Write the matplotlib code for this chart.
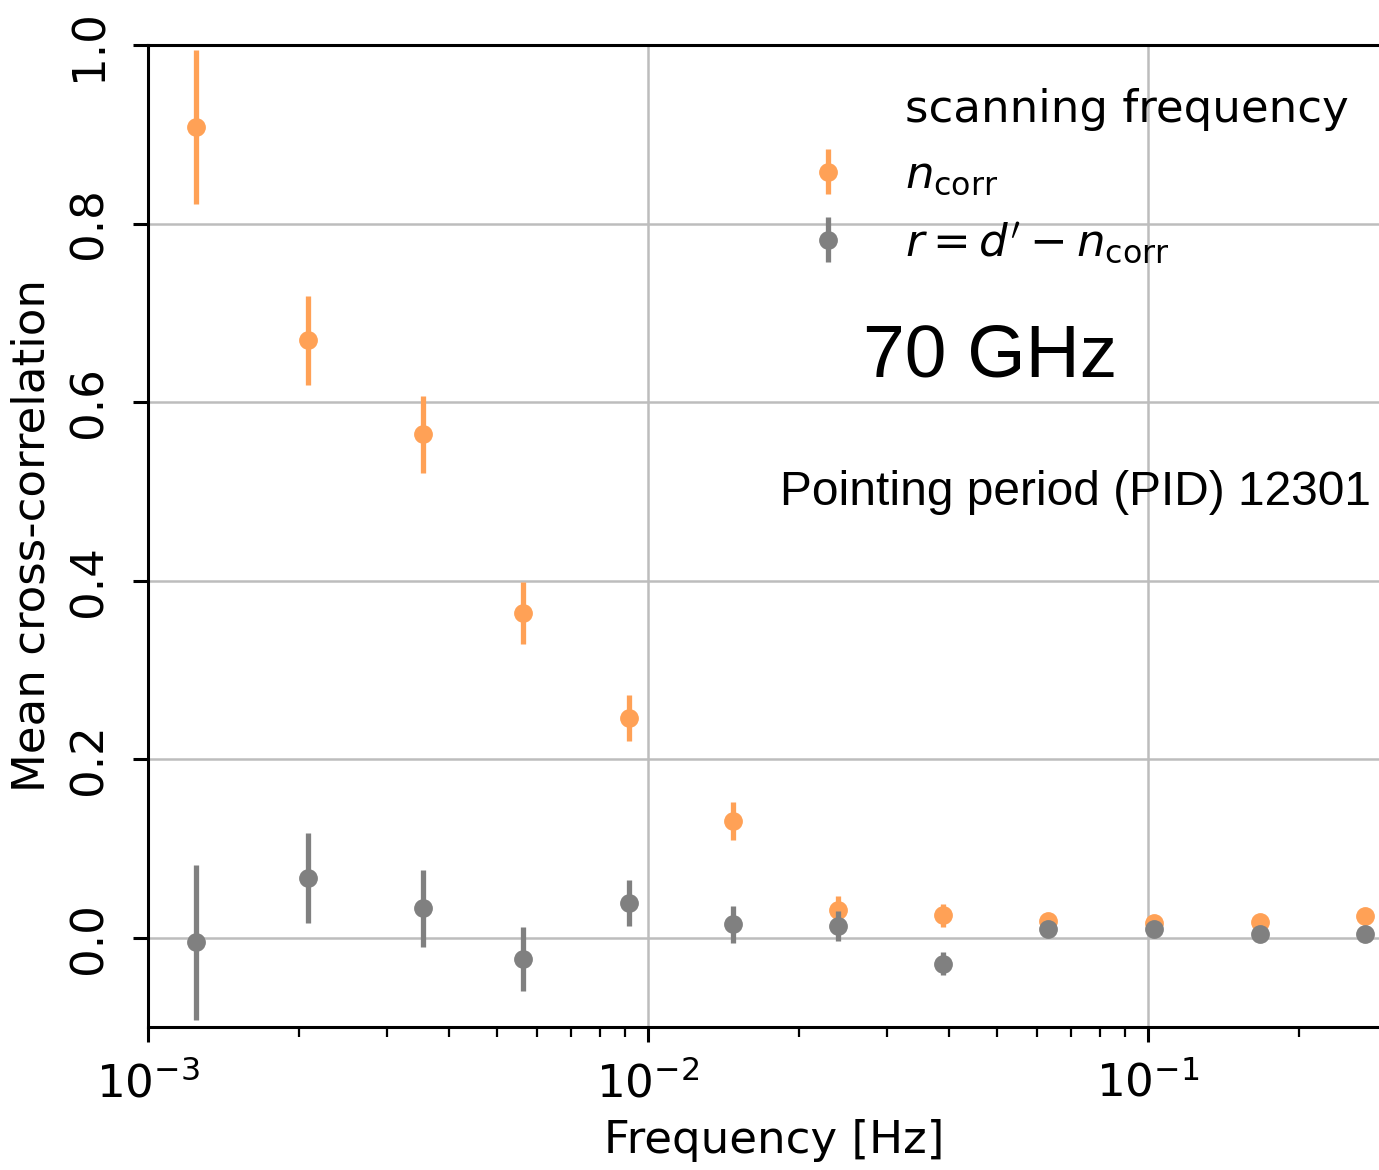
import matplotlib
matplotlib.use("Agg")
import matplotlib.pyplot as plt
from matplotlib.lines import Line2D

# frequency bins [Hz]
freq = [1.25e-3, 2.09e-3, 3.55e-3, 5.62e-3, 9.16e-3, 1.48e-2,
        2.40e-2, 3.89e-2, 6.31e-2, 0.1028, 0.1675, 0.2716]

# n_corr cross-correlation
ncorr = [0.908, 0.669, 0.564, 0.364, 0.246, 0.131,
         0.031, 0.025, 0.019, 0.017, 0.018, 0.024]
ncorr_err = [0.086, 0.050, 0.043, 0.035, 0.026, 0.021,
             0.016, 0.013, 0.008, 0.006, 0.005, 0.004]

# residual r = d' - n_corr
resid = [-0.005, 0.067, 0.033, -0.024, 0.039, 0.015,
         0.013, -0.029, 0.010, 0.010, 0.004, 0.004]
resid_err = [0.087, 0.050, 0.043, 0.036, 0.026, 0.021,
             0.017, 0.013, 0.008, 0.006, 0.005, 0.004]

ORANGE = "#ffa156"
GRAY = "#808080"
FS = 32.5

W, H = 1379, 1170
fig = plt.figure(figsize=(W / 100, H / 100), dpi=100)
ax = fig.add_axes([148 / W, 1 - 1027 / H, (1400 - 148) / W, (1027 - 45) / H])

ax.errorbar(freq, ncorr, yerr=ncorr_err, fmt="o", color=ORANGE,
            markersize=12.5, elinewidth=3.8, capsize=0, zorder=3)
ax.errorbar(freq, resid, yerr=resid_err, fmt="o", color=GRAY,
            markersize=12.5, elinewidth=3.8, capsize=0, zorder=4)

ax.set_xscale("log")
ax.set_xlim(1e-3, 10 ** (-3 + 1252 / 500))
ax.set_ylim(-0.1, 1.0)
ax.set_yticks([0.0, 0.2, 0.4, 0.6, 0.8, 1.0])

ax.grid(True, which="major", color="#bdbdbd", linewidth=1.8)
ax.set_axisbelow(True)
for side in ["left", "bottom", "top", "right"]:
    ax.spines[side].set_linewidth(2.2)
ax.tick_params(which="major", length=11, width=2.2, labelsize=FS)
ax.tick_params(which="minor", length=7, width=1.6)
ax.tick_params(axis="x", which="major", pad=14)
ax.tick_params(axis="y", labelrotation=90, pad=16)
for lbl in ax.get_yticklabels():
    lbl.set_va("center")

ax.set_xlabel("Frequency [Hz]", fontsize=FS, labelpad=9)
ax.set_ylabel("Mean cross-correlation", fontsize=FS, labelpad=10)

# legend: first entry has an empty handle
handles = [
    Line2D([], [], linestyle="none", marker=None),
    ax.errorbar([], [], yerr=[], fmt="o", color=ORANGE, markersize=12.5, elinewidth=3.8),
    ax.errorbar([], [], yerr=[], fmt="o", color=GRAY, markersize=12.5, elinewidth=3.8),
]
labels = ["scanning frequency", r"$n_{\rm corr}$", r"$r = d' - n_{\rm corr}$"]
fig.legend(handles, labels, loc="upper left", bbox_to_anchor=(783 / W, 1 - 70 / H),
           frameon=False, fontsize=FS, handlelength=1.2, handletextpad=1.1,
           labelspacing=0.5, borderaxespad=0)

fig.text(990 / W, 1 - 357 / H, "70 GHz", fontsize=54, family="Liberation Sans",
         ha="center", va="center")
fig.text(1075 / W, 1 - 492 / H, "Pointing period (PID) 12301", fontsize=34.5,
         family="Liberation Sans", ha="center", va="center")

fig.savefig("out.png", dpi=100)
